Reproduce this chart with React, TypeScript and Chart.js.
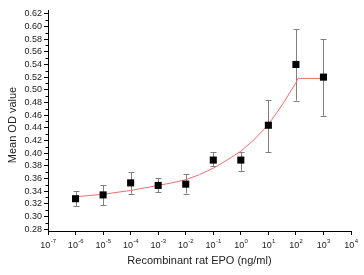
import React, { useEffect, useRef } from "react";
import { Chart, registerables } from "chart.js";

Chart.register(...registerables);

// EPO concentration (ng/ml)
const concentrations = [1e-6, 1e-5, 1e-4, 1e-3, 1e-2, 1e-1, 1, 10, 100, 1000];
const meanOD = [0.328, 0.334, 0.353, 0.349, 0.351, 0.389, 0.389, 0.444, 0.54, 0.52];
const errHigh = [0.34, 0.349, 0.37, 0.361, 0.367, 0.401, 0.402, 0.484, 0.596, 0.58];
const errLow = [0.316, 0.318, 0.336, 0.338, 0.336, 0.379, 0.372, 0.402, 0.483, 0.459];

// fitted curve
const fitX = [1e-6, 3.16e-6, 1e-5, 3.16e-5, 1e-4, 3.16e-4, 1e-3, 3.16e-3, 1e-2, 3.16e-2, 1e-1, 3.16e-1, 1, 3.16, 10, 31.6, 100, 120, 1000];
const fitY = [0.331, 0.333, 0.335, 0.338, 0.341, 0.345, 0.349, 0.353, 0.358, 0.366, 0.376, 0.389, 0.403, 0.422, 0.445, 0.476, 0.511, 0.518, 0.518];

const xTickValues = [1e-7, 1e-6, 1e-5, 1e-4, 1e-3, 1e-2, 1e-1, 1, 10, 100, 1000, 10000];
const xTickExponents = ["-7", "-6", "-5", "-4", "-3", "-2", "-1", "0", "1", "2", "3", "4"];
const yTickValues = [0.28, 0.3, 0.32, 0.34, 0.36, 0.38, 0.4, 0.42, 0.44, 0.46, 0.48, 0.5, 0.52, 0.54, 0.56, 0.58, 0.6, 0.62];
const yMinorValues = [0.29, 0.31, 0.33, 0.35, 0.37, 0.39, 0.41, 0.43, 0.45, 0.47, 0.49, 0.51, 0.53, 0.55, 0.57, 0.59, 0.61];

const xTitle = "Recombinant rat EPO (ng/ml)";
const yTitle = "Mean OD value";

const FONT = "'Liberation Sans', Arial, sans-serif";

const errorBarPlugin = {
  id: "errorBars",
  beforeDatasetsDraw(chart: any) {
    const { ctx, scales } = chart;
    const xs = scales.x;
    const ys = scales.y;
    ctx.save();
    ctx.strokeStyle = "#808080";
    ctx.lineWidth = 1;
    concentrations.forEach((c, i) => {
      const x = Math.round(xs.getPixelForValue(c)) + 0.5;
      const yt = ys.getPixelForValue(errHigh[i]);
      const yb = ys.getPixelForValue(errLow[i]);
      ctx.beginPath();
      ctx.moveTo(x, yt);
      ctx.lineTo(x, yb);
      ctx.moveTo(x - 3, Math.round(yt) + 0.5);
      ctx.lineTo(x + 3, Math.round(yt) + 0.5);
      ctx.moveTo(x - 3, Math.round(yb) + 0.5);
      ctx.lineTo(x + 3, Math.round(yb) + 0.5);
      ctx.stroke();
    });
    ctx.restore();
  },
  afterDraw(chart: any) {
    const { ctx, scales, chartArea } = chart;
    const xs = scales.x;
    const ys = scales.y;
    ctx.save();
    // minor y ticks
    ctx.strokeStyle = "#000";
    ctx.lineWidth = 1;
    ctx.beginPath();
    yMinorValues.forEach((v) => {
      const y = Math.round(ys.getPixelForValue(v)) + 0.5;
      ctx.moveTo(chartArea.left - 2.5, y);
      ctx.lineTo(chartArea.left, y);
    });
    ctx.stroke();
    // x tick labels with superscripts
    ctx.fillStyle = "#222";
    ctx.textBaseline = "alphabetic";
    xTickValues.forEach((v, i) => {
      const x = xs.getPixelForValue(v);
      ctx.font = `9px ${FONT}`;
      const wBase = ctx.measureText("10").width;
      ctx.font = `6px ${FONT}`;
      const wExp = ctx.measureText(xTickExponents[i]).width;
      const start = x - (wBase + wExp) / 2;
      ctx.font = `9px ${FONT}`;
      ctx.textAlign = "left";
      ctx.fillText("10", start, 248);
      ctx.font = `6px ${FONT}`;
      ctx.fillText(xTickExponents[i], start + wBase + 0.3, 243);
    });
    // y title
    ctx.font = `11px ${FONT}`;
    ctx.textAlign = "center";
    ctx.textBaseline = "middle";
    ctx.translate(12.5, 125);
    ctx.rotate(-Math.PI / 2);
    ctx.fillText(yTitle, 0, 0);
    ctx.restore();
  },
};

export default function App() {
  const ref = useRef<HTMLCanvasElement | null>(null);
  useEffect(() => {
    if (!ref.current) return;
    const chart = new Chart(ref.current, {
      type: "scatter",
      data: {
        datasets: [
          {
            label: "Mean OD",
            data: concentrations.map((c, i) => ({ x: c, y: meanOD[i] })),
            pointStyle: "rect",
            pointRadius: 5,
            pointBackgroundColor: "#000",
            pointBorderWidth: 0,
            showLine: false,
          },
          {
            label: "Fit",
            data: fitX.map((x, i) => ({ x, y: fitY[i] })),
            showLine: true,
            pointRadius: 0,
            borderColor: "rgb(232,110,110)",
            borderWidth: 1,
            tension: 0,
            fill: false,
          },
        ],
      },
      options: {
        animation: false,
        responsive: true,
        maintainAspectRatio: false,
        layout: { padding: { top: 10, right: 13, left: 0, bottom: 0 } },
        plugins: {
          legend: { display: false },
          tooltip: { enabled: false },
        },
        scales: {
          x: {
            type: "logarithmic",
            min: 1e-7,
            max: 1e4,
            afterBuildTicks(scale: any) {
              scale.ticks = xTickValues.map((v) => ({ value: v, major: true }));
            },
            afterFit(scale: any) {
              scale.height = 44;
            },
            ticks: { display: false, autoSkip: false },
            grid: {
              drawOnChartArea: false,
              drawTicks: true,
              tickLength: 4,
              tickColor: "#000",
            },
            border: { display: true, color: "#000", width: 1 },
            title: {
              display: true,
              text: xTitle,
              color: "#222",
              font: { family: FONT, size: 11 },
              padding: { top: 0, bottom: 7 },
            },
          },
          y: {
            type: "linear",
            min: 0.277,
            max: 0.626,
            afterBuildTicks(scale: any) {
              scale.ticks = yTickValues.map((v) => ({ value: v }));
            },
            afterFit(scale: any) {
              scale.width = 48;
            },
            ticks: {
              autoSkip: false,
              padding: 2,
              color: "#222",
              font: { family: FONT, size: 9 },
              callback: (v: any) => Number(v).toFixed(2),
            },
            grid: {
              drawOnChartArea: false,
              drawTicks: true,
              tickLength: 4,
              tickColor: "#000",
            },
            border: { display: true, color: "#000", width: 1 },
            title: { display: false },
          },
        },
      },
      plugins: [errorBarPlugin],
    } as any);
    return () => chart.destroy();
  }, []);
  return (
    <div style={{ position: "fixed", left: 0, top: 0, width: 364, height: 275 }}>
      <canvas ref={ref} />
    </div>
  );
}
